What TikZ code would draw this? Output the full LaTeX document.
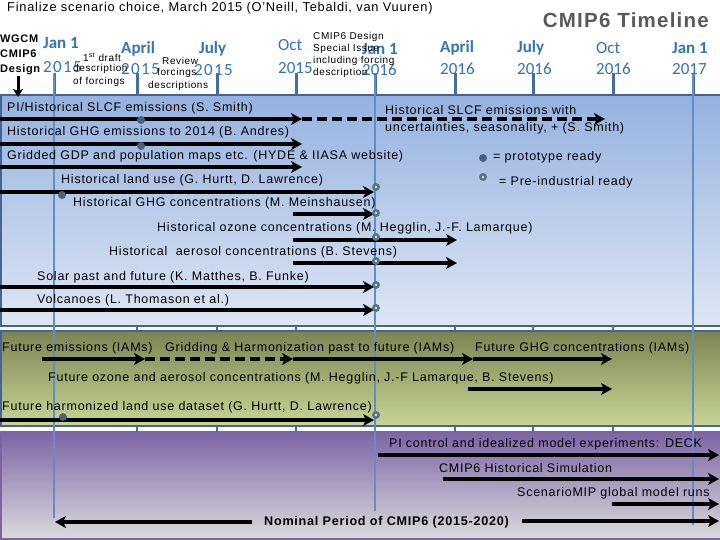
\documentclass[tikz,border=0pt]{standalone}
\usepackage{fontspec}
\setmainfont[LetterSpace=6]{Liberation Sans}
\newfontfamily\calfont{Carlito}
\newfontfamily\calspaced[LetterSpace=8]{Carlito}
\usetikzlibrary{arrows.meta,shadings}

\definecolor{tlblue}{RGB}{50,118,178}
\definecolor{tlgray}{RGB}{90,90,90}
\definecolor{tickcol}{RGB}{72,108,160}
\definecolor{vlinecol}{RGB}{98,142,200}
\definecolor{pborder}{RGB}{70,100,145}
\definecolor{bluetop}{RGB}{148,178,224}
\definecolor{bluebot}{RGB}{222,230,243}
\definecolor{greentop}{RGB}{124,132,82}
\definecolor{greenbot}{RGB}{200,214,150}
\definecolor{purptop}{RGB}{125,100,165}
\definecolor{purpmid}{RGB}{182,176,188}
\definecolor{purpbot}{RGB}{220,220,220}
\definecolor{purpedge}{RGB}{125,100,160}
\definecolor{protofill}{RGB}{78,95,125}
\definecolor{prefill}{RGB}{85,115,138}
\definecolor{precore}{RGB}{205,240,160}

\begin{document}
\begin{tikzpicture}[x=1pt,y=-1pt]
   \tikzset{lbl/.style={anchor=west,inner sep=0pt,font=\fontsize{12.5}{14}\selectfont},
            note/.style={anchor=west,inner sep=0pt,align=left,font=\fontsize{10}{12.2}\selectfont},
            mon/.style={anchor=west,inner sep=0pt,text=tlblue,font=\calfont\bfseries\fontsize{17}{18}\selectfont},
            monreg/.style={anchor=west,inner sep=0pt,text=tlblue,font=\calfont\fontsize{17}{18}\selectfont},
            yr/.style={anchor=west,inner sep=0pt,text=tlblue,font=\calspaced\fontsize{17}{18}\selectfont},
            arr/.style={line width=4.5pt,-{Stealth[length=11pt,width=12pt,inset=3pt]}},
            darr/.style={arr,dash pattern=on 10pt off 5pt},
            proto/.style={circle,fill=protofill,inner sep=0pt,minimum size=8pt},
            preind/.style={circle,fill=prefill,inner sep=0pt,minimum size=8pt,
                           path picture={\fill[precore] (path picture bounding box.center) circle (1.3pt);}},
            tick/.style={tickcol,line width=3pt},
            vline/.style={vlinecol,line width=2.5pt}}

\useasboundingbox (0,0) rectangle (720,540);
\fill[white] (0,0) rectangle (720,540);

%Panels--------------------------
\shade[top color=bluetop,bottom color=bluebot] (0,95) rectangle (720,326);
\draw[pborder,line width=2pt] (720,95) -- (1,95) -- (1,326) -- (720,326);
\shade[top color=greentop,bottom color=greenbot] (0,331) rectangle (720,426);
\draw[pborder,line width=2pt] (720,331) -- (1,331) -- (1,426) -- (720,426);
\shade[top color=purptop,middle color=purpmid,bottom color=purpbot] (0,432) rectangle (720,540);
\draw[purpedge,line width=1.5pt] (720,432) -- (1,432) -- (1,539) -- (720,539);

%Ticks---------------------------
\foreach \x in {54,137,217,296,375,455,533,613,693}{
    \draw[tick] (\x,73) -- (\x,95);
    \draw[tick,line width=2pt] (\x,326) -- (\x,331);
    \draw[tick,line width=2pt] (\x,426) -- (\x,432);
}
\draw[vline] (54,73) -- (54,518);
\draw[vline] (375,73) -- (375,511);
\draw[vline] (693,73) -- (693,525);

%Header--------------------------
\node[lbl,anchor=west,font=\fontsize{12.8}{14}\selectfont] (title) at (7,8) {Finalize scenario choice, March 2015 (O’Neill, Tebaldi, van Vuuren)};
\node[anchor=east,inner sep=0pt,text=tlgray,font=\bfseries\fontsize{20.5}{22}\selectfont] (tl) at (709,20) {CMIP6 Timeline};

\node[note,align=left,font=\bfseries\fontsize{11}{15}\selectfont] (wgcm) at (0,55) {WGCM\\CMIP6\\Design};
\coordinate (wa) at (18,76);
\coordinate (wb) at (18,97);
\draw[line width=3pt,-{Stealth[length=8pt,width=10pt,inset=2pt]}] (wa) -- (wb);

\node[mon] (m1) at (43,43) {Jan 1};
\node[yr]  (y1) at (43,67) {2015};
\node[mon] (m2) at (121,49) {April};
\node[yr]  (y2) at (121,69) {2015};
\node[mon] (m3) at (199,49) {July};
\node[yr]  (y3) at (194,70) {2015};
\node[monreg] (m4) at (278,45) {Oct};
\node[monreg] (y4) at (278,68) {2015};
\node[mon] (m5) at (362,49) {Jan 1};
\node[monreg] (y5) at (362,70) {2016};
\node[mon] (m6) at (440,48) {April};
\node[monreg] (y6) at (440,69) {2016};
\node[mon] (m7) at (517,48) {July};
\node[monreg] (y7) at (517,69) {2016};
\node[monreg] (m8) at (596,48) {Oct};
\node[monreg] (y8) at (596,69) {2016};
\node[mon] (m9) at (672,48) {Jan 1};
\node[monreg] (y9) at (672,69) {2017};

\node[note] (n1) at (83,57) {1\textsuperscript{st} draft};
\node[note] (n2) at (73,75.5) {description\\of forcings};
\node[note] (n3) at (162,61) {Review};
\node[note] (n4) at (148,79.5) {\hspace*{9pt}forcings\\descriptions};
\node[note] (n5) at (313,55) {CMIP6 Design\\Special Issue\\including forcing\\description};

%Historical----------------------
\node[lbl] (h1) at (7,108) {PI/Historical SLCF emissions (S. Smith)};
\node[lbl] (h2) at (7,132) {Historical GHG emissions to 2014 (B. Andres)};
\node[lbl] (h3) at (7,156) {Gridded GDP and population maps etc. (HYDE \& IIASA website)};
\node[lbl] (h4) at (61,180) {Historical land use (G. Hurtt, D. Lawrence)};
\node[lbl] (h5) at (73,203) {Historical GHG concentrations (M. Meinshausen)};
\node[lbl] (h6) at (157,228) {Historical ozone concentrations (M. Hegglin, J.-F. Lamarque)};
\node[lbl] (h7) at (109,252) {Historical\ \ aerosol concentrations (B. Stevens)};
\node[lbl] (h8) at (37,277) {Solar past and future (K. Matthes, B. Funke)};
\node[lbl] (h9) at (37,300) {Volcanoes (L. Thomason et al.)};
\node[lbl,align=left,font=\fontsize{12.5}{17}\selectfont] (h10) at (385,119.5) {Historical SLCF emissions with\\uncertainties, seasonality, + (S. Smith)};
\node[lbl] (k1) at (493,157) {= prototype ready};
\node[lbl] (k2) at (499,182) {= Pre-industrial ready};

%Future--------------------------
\node[lbl] (f1) at (2,348) {Future emissions (IAMs)};
\node[lbl] (f2) at (165,348) {Gridding \& Harmonization past to future (IAMs)};
\node[lbl] (f3) at (475,348) {Future GHG concentrations (IAMs)};
\node[lbl] (f4) at (48,378) {Future ozone and aerosol concentrations (M. Hegglin, J.-F Lamarque, B. Stevens)};
\node[lbl] (f5) at (2,407) {Future harmonized land use dataset (G. Hurtt, D. Lawrence)};

%Runs----------------------------
\node[lbl] (e1) at (389,444) {PI control and idealized model experiments: DECK};
\node[lbl] (e2) at (439,468) {CMIP6 Historical Simulation};
\node[lbl] (e3) at (517,493) {ScenarioMIP global model runs};
\node[lbl,font=\bfseries\fontsize{12.6}{14}\selectfont] (e4) at (264,522) {Nominal Period of CMIP6 (2015-2020)};

%Arrows--------------------------
\foreach \n/\xa/\xb/\y in {1/0/302/119, 2/0/302/144, 3/0/302/167, 4/0/374/192,
                           5/293/374/214, 6/293/457/240, 7/293/457/263, 8/0/374/287,
                           9/0/374/310, 10/42/145/359, 11/293/473/359, 12/473/612/359,
                           13/468/612/389, 14/0/374/420, 15/378/719/455, 16/443/719/479,
                           17/612/719/504, 18/522/719/521, 19/252/55/522}{
    \coordinate (a\n) at (\xa,\y);
    \coordinate (b\n) at (\xb,\y);
    \draw[arr] (a\n) -- (b\n);
}
\foreach \n/\xa/\xb/\y in {1/302/605/119, 2/145/293/359}{
    \coordinate (c\n) at (\xa,\y);
    \coordinate (d\n) at (\xb,\y);
    \draw[darr] (c\n) -- (d\n);
}

%Dots----------------------------
\node[proto] (p1) at (141,120) {};
\node[proto] (p2) at (141,146) {};
\node[proto] (p3) at (62,195) {};
\node[proto] (p4) at (63,417) {};
\node[proto] (p5) at (483,158) {};
\foreach \i/\y in {1/187,2/213,3/237,4/261,5/285,6/308,7/415}{
    \node[preind] (q\i) at (376,\y) {};
}
\node[preind] (q8) at (483,177) {};

\end{tikzpicture}
\end{document}
